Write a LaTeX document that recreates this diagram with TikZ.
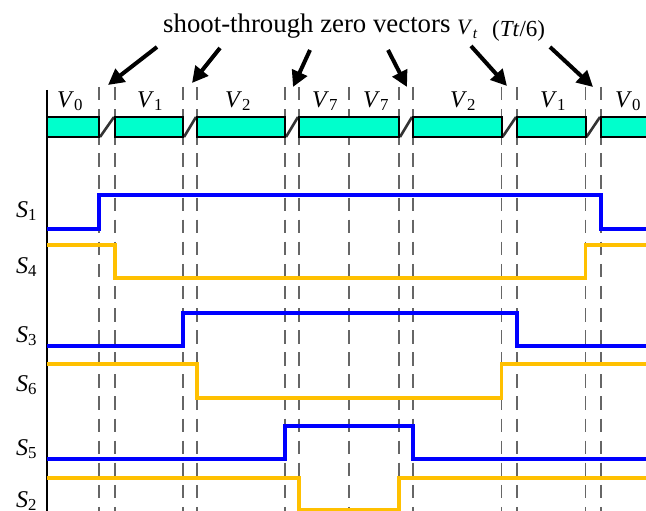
\documentclass[tikz,border=0pt]{standalone}
\usepackage{fontspec}
\setmainfont{Liberation Serif}
\usetikzlibrary{arrows.meta}
\definecolor{barcyan}{RGB}{0,255,204}
\definecolor{sigorange}{RGB}{255,192,0}
\definecolor{sigblue}{RGB}{0,0,255}
\newcommand{\vlab}[1]{\textit{V}\textsubscript{#1}}
\newcommand{\slab}[1]{\textit{S}\textsubscript{#1}}
\tikzset{
    bar/.style={fill=barcyan,draw=black,line width=2pt},
    gapline/.style={draw=black!80,line width=2.6pt},
    guide/.style={draw=black!60,line width=1.6pt,dash pattern=on 13.5pt off 8.6pt},
    hiline/.style={line width=3.5pt,sigblue},
    loline/.style={line width=3.5pt,sigorange},
    pointer/.style={-{Triangle[length=16pt,width=16pt]},line width=4pt},
    vname/.style={anchor=base,inner sep=0pt,font=\fontsize{24}{24}\selectfont},
    sname/.style={anchor=base west,inner sep=0pt,font=\fontsize{24}{24}\selectfont},
}
\begin{document}
\begin{tikzpicture}[x=1pt,y=-1pt]
    \useasboundingbox (0,0) rectangle (646,511);
    % guides
    \foreach \x in {99,115,183,197,285,299,349,399,413,501.5,517,585.5,601}
        \draw[guide] (\x,87)--(\x,511);
    \draw[black,line width=1.8pt] (47,90)--(47,511);
    % signals
    \draw[hiline] (47,229)--(99,229)--(99,195)--(601,195)--(601,229)--(646,229); % S1
    \draw[loline] (47,245)--(115,245)--(115,278)--(585.5,278)--(585.5,245)--(646,245); % S4
    \draw[hiline] (47,346)--(183,346)--(183,313)--(517,313)--(517,346)--(646,346); % S3
    \draw[loline] (47,364)--(197,364)--(197,398)--(501.5,398)--(501.5,364)--(646,364); % S6
    \draw[hiline] (47,459)--(285,459)--(285,426)--(413,426)--(413,459)--(646,459); % S5
    \draw[loline] (47,478)--(299,478)--(299,510)--(399,510)--(399,478)--(646,478); % S2
    % vector bar
    \foreach \a/\b in {99/115,183/197,285/299,399/413,501.5/517,585.5/601}
        \draw[gapline] (\a+1,137)--(\b-1,117);
    \foreach \a/\b in {47/99,115/183,197/285,299/399,413/501.5,517/585.5}
        \draw[bar] (\a,117) rectangle (\b,137);
    \fill[barcyan] (601,117) rectangle (647,137);
    \draw[black,line width=2pt] (647,117)--(601,117)--(601,137)--(647,137);
    \path
    (70,107) node[vname] (v0a) {\vlab{0}}
    (150,107) node[vname] (v1a) {\vlab{1}}
    (238,107) node[vname] (v2a) {\vlab{2}}
    (325,107) node[vname] (v7a) {\vlab{7}}
    (376,107) node[vname] (v7b) {\vlab{7}}
    (463,107) node[vname] (v2b) {\vlab{2}}
    (553,107) node[vname] (v1b) {\vlab{1}}
    (628,107) node[vname] (v0b) {\vlab{0}};
    % switch names
    \path
    (16,217) node[sname] (s1) {\slab{1}}
    (16,273) node[sname] (s4) {\slab{4}}
    (16,342) node[sname] (s3) {\slab{3}}
    (16,391) node[sname] (s6) {\slab{6}}
    (16,455) node[sname] (s5) {\slab{5}}
    (16,507) node[sname] (s2) {\slab{2}};
    % title
    \node[anchor=base west,inner sep=0pt,font=\fontsize{26.8}{26.8}\selectfont] (title) at (163,33) {shoot-through zero vectors};
    \node[anchor=base west,inner sep=0pt,font=\fontsize{22}{22}\selectfont] (vt) at (457,35) {\vlab{\textit{t}}};
    \node[anchor=base west,inner sep=0pt,font=\fontsize{23}{23}\selectfont] (tt) at (492,37) {(\textit{Tt}/6)};
    % pointers
    \coordinate (t1) at (157,47); \coordinate (h1) at (108,85);
    \coordinate (t2) at (220,48); \coordinate (h2) at (192,83);
    \coordinate (t3) at (310,50); \coordinate (h3) at (293,87);
    \coordinate (t4) at (388,50); \coordinate (h4) at (407,87);
    \coordinate (t5) at (471,46); \coordinate (h5) at (507,86);
    \coordinate (t6) at (550,47); \coordinate (h6) at (593,87);
    \draw[pointer] (t1)--(h1);
    \draw[pointer] (t2)--(h2);
    \draw[pointer] (t3)--(h3);
    \draw[pointer] (t4)--(h4);
    \draw[pointer] (t5)--(h5);
    \draw[pointer] (t6)--(h6);
\end{tikzpicture}
\end{document}
